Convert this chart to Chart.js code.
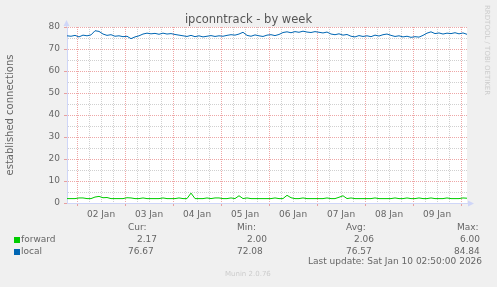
<!DOCTYPE html>
<html>
<head>
<meta charset="utf-8">
<title>ipconntrack - by week</title>
<script src="https://cdn.jsdelivr.net/npm/chart.js@4.4.1/dist/chart.umd.min.js"></script>
<style>
  html, body { margin: 0; padding: 0; background: #f0f0f0; }
  #wrap { position: relative; width: 497px; height: 287px; overflow: hidden;
          font-family: 'DejaVu Sans', sans-serif; color: #666; }
  #wrap canvas { position: absolute; left: 0; top: 0; }
  .t { position: absolute; white-space: pre; font-size: 9px; line-height: 10px; }
  .sq { position: absolute; width: 6px; height: 6px; }
  #title { position: absolute; left: 0; width: 497px; top: 13px; text-align: center;
           font-size: 11.5px; line-height: 13px; color: #555; }
  #rrd { position: absolute; left: 483px; top: 5px; writing-mode: vertical-rl;
         font-size: 7px; line-height: 8px; color: #ccc; white-space: pre; }
  #munin { position: absolute; left: 225px; top: 270px; font-size: 7px; line-height: 8px; color: #ccc; }
</style>
</head>
<body>
<div id="wrap">
  <canvas id="chart" width="497" height="287"></canvas>
  <div id="title">ipconntrack - by week</div>
  <div id="rrd">RRDTOOL / TOBI OETIKER</div>

  <div class="t" style="left:128px;top:222px">Cur:</div>
  <div class="t" style="left:237px;top:222px">Min:</div>
  <div class="t" style="left:346px;top:222px">Avg:</div>
  <div class="t" style="left:457px;top:222px">Max:</div>

  <div class="sq" style="left:14px;top:237px;background:#00cc00"></div>
  <div class="t" style="left:21px;top:234px">forward</div>
  <div class="t" style="left:137px;top:234px">2.17</div>
  <div class="t" style="left:247px;top:234px">2.00</div>
  <div class="t" style="left:354px;top:234px">2.06</div>
  <div class="t" style="left:460px;top:234px">6.00</div>

  <div class="sq" style="left:14px;top:249px;background:#0066b3"></div>
  <div class="t" style="left:21px;top:246px">local</div>
  <div class="t" style="left:128px;top:246px">76.67</div>
  <div class="t" style="left:237px;top:246px">72.08</div>
  <div class="t" style="left:346px;top:246px">76.57</div>
  <div class="t" style="left:454px;top:246px">84.84</div>

  <div class="t" style="left:308px;top:256px">Last update: Sat Jan 10 02:50:00 2026</div>
  <div id="munin">Munin 2.0.76</div>
</div>
<script>
(function () {
  'use strict';

  // one sample every 2 hours, first one at Jan 1 19:00 (hour -5 from Jan 2 00:00)
  const startHour = -5;
  const stepHours = 2;

  const forward = [
    2.0, 2.0, 2.0, 2.3, 2.3, 2.0, 2.0, 2.7, 3.0, 2.4,
    2.5, 2.0, 2.0, 2.0, 2.0, 2.4, 2.3, 2.0, 2.0, 2.3,
    2.0, 2.0, 2.0, 2.0, 2.3, 2.0, 2.0, 2.0, 2.3, 2.0,
    2.0, 4.5, 2.0, 2.0, 2.0, 2.3, 2.0, 2.3, 2.3, 2.0,
    2.0, 2.3, 2.0, 3.3, 2.0, 2.3, 2.0, 2.0, 2.0, 2.0,
    2.0, 2.0, 2.3, 2.0, 2.0, 3.5, 2.4, 2.0, 2.0, 2.3,
    2.0, 2.0, 2.0, 2.0, 2.0, 2.3, 2.0, 2.0, 2.6, 3.3,
    2.0, 2.3, 2.0, 2.0, 2.0, 2.0, 2.0, 2.3, 2.0, 2.0,
    2.0, 2.0, 2.3, 2.0, 2.0, 2.3, 2.0, 2.0, 2.3, 2.0,
    2.0, 2.3, 2.0, 2.0, 2.0, 2.3, 2.0, 2.0, 2.0, 2.3,
    2.17
  ];

  const local = [
    76.0, 75.8, 76.2, 75.5, 76.3, 76.0, 76.4, 78.3, 78.0, 76.8,
    76.2, 76.5, 75.8, 76.0, 75.6, 75.8, 74.7, 75.5, 76.0, 76.8,
    77.2, 76.9, 77.1, 76.7, 77.2, 76.8, 77.0, 76.6, 76.3, 76.0,
    75.7, 76.2, 75.6, 76.0, 75.5, 75.8, 76.1, 75.7, 76.0, 75.8,
    76.2, 76.5, 76.3, 76.8, 77.6, 76.2, 75.8, 76.4, 76.0, 75.7,
    76.3, 76.5, 76.1, 76.6, 77.5, 77.8, 77.4, 77.9, 77.6, 78.1,
    77.7, 77.5, 77.9, 77.6, 77.3, 77.7, 76.8, 76.5, 76.9, 76.3,
    76.6, 75.8, 75.5, 76.1, 75.7, 76.0, 75.6, 76.3, 75.9, 76.5,
    76.8, 76.2, 75.7, 76.0, 75.5, 75.8, 75.3, 75.6, 75.4, 76.2,
    77.2, 77.8, 77.0, 77.3, 76.8, 77.2, 77.0, 77.4, 76.9, 77.3,
    76.67
  ];

  const dayLabels = ['02 Jan', '03 Jan', '04 Jan', '05 Jan', '06 Jan', '07 Jan', '08 Jan', '09 Jan'];
  const yMajorTicks = [0, 10, 20, 30, 40, 50, 60, 70, 80];

  const X_MIN = -5, X_MAX = 195;
  const MAJOR = 'rgba(222,79,79,0.5)';
  const MINOR = 'rgba(143,143,143,0.42)';
  const AXIS = '#cfd6f8';
  const FONT = 'DejaVu Sans';

  const toPoints = (arr) => arr.map((v, i) => ({ x: startHour + i * stepHours, y: v }));

  // x ticks every 6h, labels at noon
  const xTicks = [];
  for (let h = 0; h <= X_MAX; h += 6) xTicks.push(h);
  const yTicks = [];
  yMajorTicks.forEach((v, i) => { yTicks.push(v); if (i < yMajorTicks.length - 1) yTicks.push(v + 5); });

  const canvasBg = {
    id: 'canvasBg',
    beforeDraw(chart) {
      const { ctx, chartArea: a } = chart;
      ctx.save();
      ctx.fillStyle = '#ffffff';
      ctx.fillRect(a.left, a.top, a.right - a.left, a.bottom - a.top);
      ctx.restore();
    }
  };

  const arrows = {
    id: 'arrows',
    afterDraw(chart) {
      const { ctx, chartArea: a } = chart;
      const l = Math.round(a.left) - 0.5, b = Math.round(a.bottom) + 0.5;
      ctx.save();
      ctx.strokeStyle = AXIS;
      ctx.fillStyle = AXIS;
      ctx.lineWidth = 1;
      ctx.beginPath();
      ctx.moveTo(l, a.top); ctx.lineTo(l, a.top - 2);
      ctx.moveTo(a.right, b); ctx.lineTo(a.right + 2, b);
      ctx.stroke();
      ctx.beginPath();
      ctx.moveTo(l, a.top - 7); ctx.lineTo(l - 3, a.top - 1); ctx.lineTo(l + 3, a.top - 1); ctx.closePath();
      ctx.fill();
      ctx.beginPath();
      ctx.moveTo(a.right + 7, b); ctx.lineTo(a.right + 1, b - 3); ctx.lineTo(a.right + 1, b + 3); ctx.closePath();
      ctx.fill();
      ctx.restore();
    }
  };

  new Chart(document.getElementById('chart'), {
    type: 'line',
    data: {
      datasets: [
        { label: 'forward', data: toPoints(forward), borderColor: '#00cc00', borderWidth: 1,
          pointRadius: 0, tension: 0, fill: false },
        { label: 'local', data: toPoints(local), borderColor: '#0066b3', borderWidth: 1,
          pointRadius: 0, tension: 0, fill: false }
      ]
    },
    options: {
      responsive: false,
      animation: false,
      events: [],
      layout: { padding: { top: 27, right: 30, bottom: 64, left: 0 } },
      plugins: {
        legend: { display: false },
        tooltip: { enabled: false },
        title: { display: false }
      },
      scales: {
        x: {
          type: 'linear',
          min: X_MIN,
          max: X_MAX,
          afterFit: (s) => { s.height = 20; },
          afterBuildTicks: (s) => { s.ticks = xTicks.map(v => ({ value: v })); },
          ticks: {
            autoSkip: false, maxRotation: 0, padding: 3, color: '#666',
            font: { family: FONT, size: 9 },
            callback: (v) => ((v - 12) % 24 === 0 ? dayLabels[(v - 12) / 24] : '')
          },
          grid: {
            color: (c) => (c.tick && c.tick.value % 24 === 0 ? MAJOR : MINOR),
            tickColor: (c) => (c.tick && c.tick.value % 24 === 0 ? MAJOR : 'rgba(0,0,0,0)'),
            tickLength: 3
          },
          border: { display: true, color: AXIS, dash: [1, 1] }
        },
        y: {
          min: 0,
          max: 80,
          afterFit: (s) => { s.width = 67; },
          afterBuildTicks: (s) => { s.ticks = yTicks.map(v => ({ value: v })); },
          ticks: {
            autoSkip: false, padding: 4, color: '#666',
            font: { family: FONT, size: 9 },
            callback: (v) => (yMajorTicks.includes(v) ? String(v) : '')
          },
          grid: {
            color: (c) => (c.tick && c.tick.value === 0 ? 'rgba(0,0,0,0)' : (c.tick && c.tick.value % 10 === 0 ? MAJOR : MINOR)),
            tickColor: (c) => (c.tick && c.tick.value % 10 === 0 ? MAJOR : 'rgba(0,0,0,0)'),
            tickLength: 3
          },
          border: { display: true, color: AXIS, dash: [1, 1] },
          title: {
            display: true, text: 'established connections', color: '#666',
            font: { family: FONT, size: 10 }, padding: { top: 4, bottom: 4 }
          }
        }
      }
    },
    plugins: [canvasBg, arrows]
  });
})();
</script>
</body>
</html>
